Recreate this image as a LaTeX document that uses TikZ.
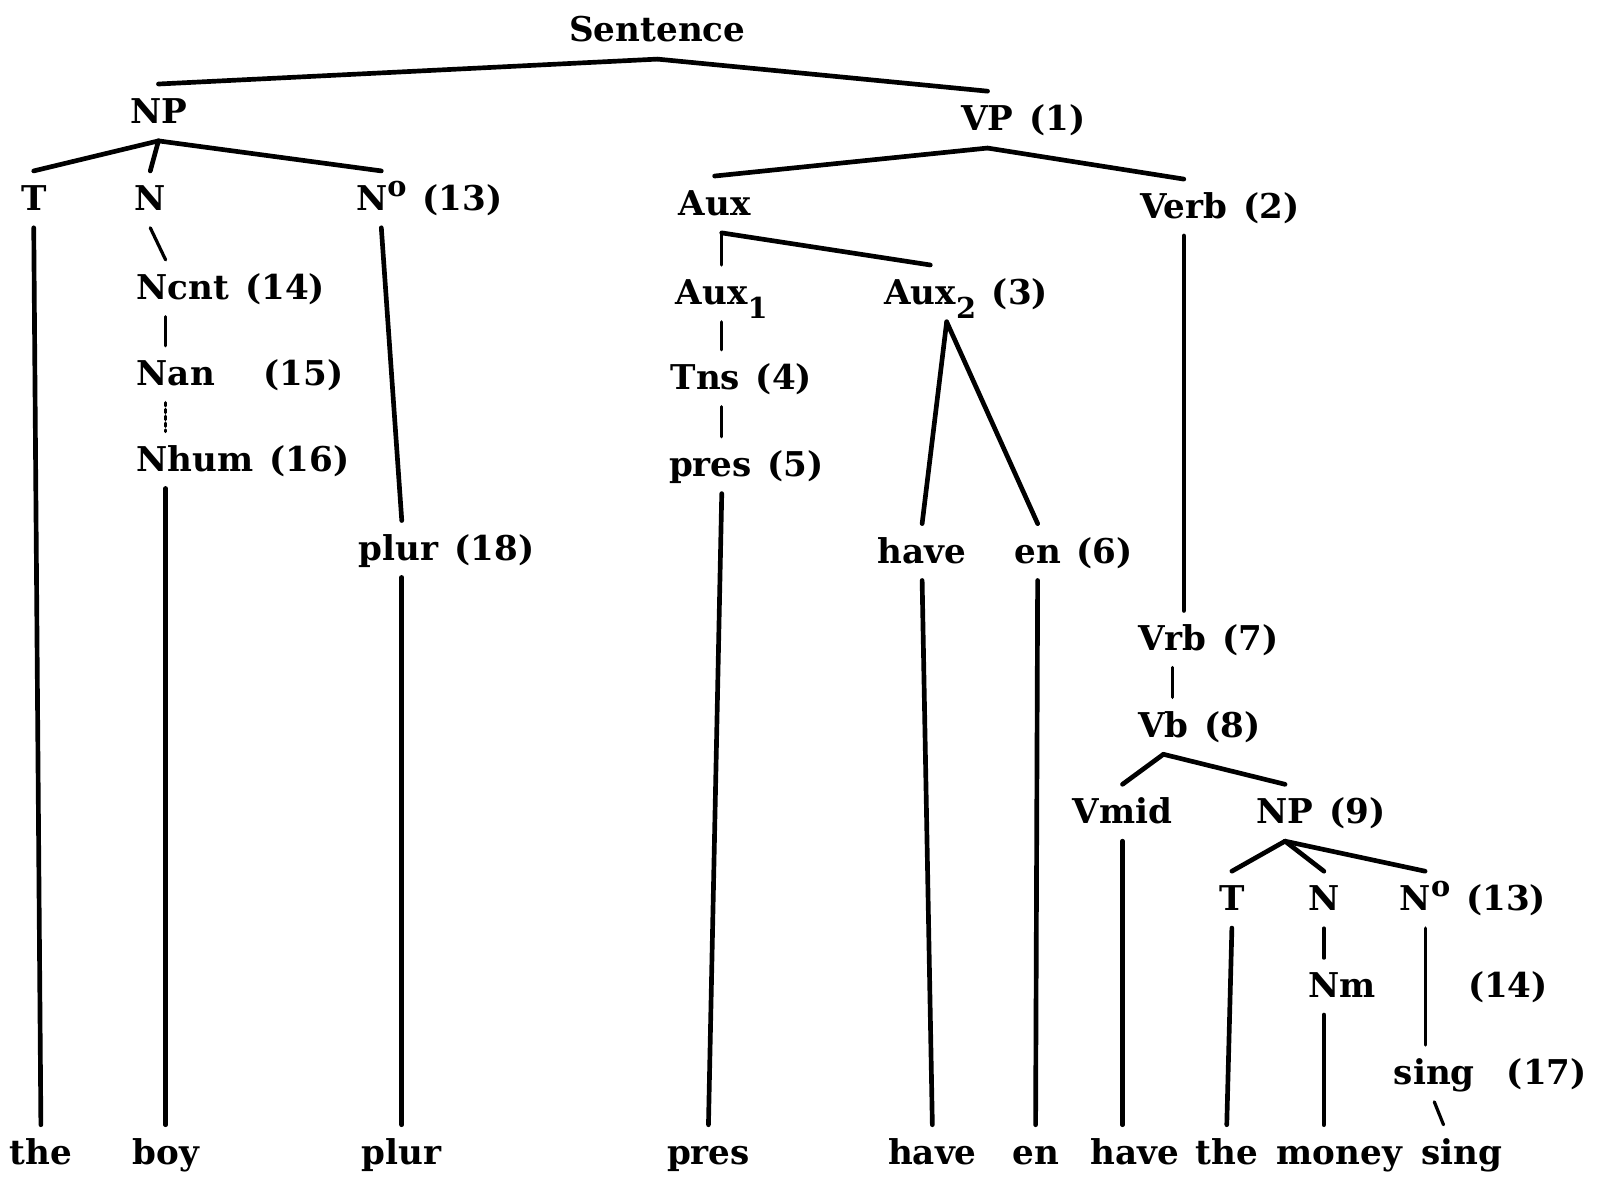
\documentclass[tikz,border=0pt]{standalone}
\usepackage{fontspec}
\setmainfont{DejaVu Serif}
\usepackage{tikz}
\usetikzlibrary{positioning}

\newcommand{\Nsup}{N\raisebox{0.8ex}{\footnotesize o}}
\newcommand{\lowsub}[1]{\raisebox{-0.8ex}{\footnotesize #1}}

\begin{document}
\begin{tikzpicture}[
    x=0.01cm, y=-0.01cm,
    node distance=0.5cm and 0pt,
    lbl/.style={font=\fontsize{9.5pt}{11pt}\selectfont\bfseries, inner sep=2pt,
                text height=1.7ex, text depth=0.5ex},
    num/.style={lbl},
    branch/.style={line width=1.3pt, line cap=round},
    twig/.style={line width=0.9pt, line cap=round},
]
    \useasboundingbox (0,0) rectangle (1568,1151);

    % upper tree
    \node[lbl] (sent) at (643,30) {Sentence};
    \node[lbl] (np) at (155,110) {NP};
    \node[lbl] (vp) at (966,117) {VP};
    \node[num, right=of vp] (vpn) {(1)};

    \node[lbl] (t1) at (33,195) {T};
    \node[lbl] (n1) at (147,195) {N};
    \node[lbl] (no1) at (373,195) {\Nsup};
    \node[num, right=of no1] (no1n) {(13)};
    \node[lbl] (aux) at (699,200) {Aux};
    \node[lbl] (verb) at (1158,203) {Verb};
    \node[num, right=of verb] (verbn) {(2)};

    \node[lbl, anchor=west] (ncnt) at (126,282) {Ncnt};
    \node[num, right=of ncnt] (ncntn) {(14)};
    \node[lbl] (aux1) at (706,287) {Aux\lowsub{1}};
    \node[lbl] (aux2) at (910,287) {Aux\lowsub{2}};
    \node[num, right=of aux2] (aux2n) {(3)};

    \node[lbl, anchor=west] (nan) at (126,366) {Nan};
    \node[num, right=0.32cm of nan] (nann) {(15)};
    \node[lbl] (tns) at (690,370) {Tns};
    \node[num, right=of tns] (tnsn) {(4)};

    \node[lbl, anchor=west] (nhum) at (126,450) {Nhum};
    \node[num, right=of nhum] (nhumn) {(16)};
    \node[lbl] (pres5) at (695,455) {pres};
    \node[num, right=of pres5] (pres5n) {(5)};

    \node[lbl] (plur18) at (390,537) {plur};
    \node[num, right=of plur18] (plur18n) {(18)};
    \node[lbl] (have1) at (902,540) {have};
    \node[lbl] (en6) at (1015,540) {en};
    \node[num, right=of en6] (en6n) {(6)};

    \node[lbl] (vrb) at (1147,625) {Vrb};
    \node[num, right=of vrb] (vrbn) {(7)};
    \node[lbl] (vb) at (1138,710) {Vb};
    \node[num, right=of vb] (vbn) {(8)};
    \node[lbl] (vmid) at (1098,795) {Vmid};
    \node[lbl] (np9) at (1257,795) {NP};
    \node[num, right=of np9] (np9n) {(9)};

    \node[lbl] (t2) at (1205,880) {T};
    \node[lbl] (n2) at (1295,880) {N};
    \node[lbl] (no2) at (1394,880) {\Nsup};
    \node[num, right=of no2] (no2n) {(13)};
    \node[lbl] (nm) at (1313,965) {Nm};
    \node[num] (nmn) at (1475,965) {(14)};
    \node[lbl] (sing17) at (1403,1050) {sing};
    \node[num, right=0.16cm of sing17] (sing17n) {(17)};

    % terminal string
    \node[lbl] (w1) at (40,1128) {the};
    \node[lbl] (w2) at (162,1128) {boy};
    \node[lbl] (w3) at (393,1128) {plur};
    \node[lbl] (w4) at (693,1128) {pres};
    \node[lbl] (w5) at (912,1128) {have};
    \node[lbl] (w6) at (1013,1128) {en};
    \node[lbl] (w7) at (1110,1128) {have};
    \node[lbl] (w8) at (1200,1128) {the};
    \node[lbl] (w9) at (1310,1128) {money};
    \node[lbl] (w10) at (1430,1128) {sing};

    % branches
    \draw[branch] (sent.south) -- (np.north);
    \draw[branch] (sent.south) -- (vp.north);
    \draw[branch] (np.south) -- (t1.north);
    \draw[branch] (np.south) -- (n1.north);
    \draw[branch] (np.south) -- (no1.north);
    \draw[branch] (vp.south) -- (aux.north);
    \draw[branch] (vp.south) -- (verb.north);

    \draw[branch] (t1.south) -- (w1.north);
    \draw[twig] (n1.south) -- (ncnt.north -| w2.north);
    \draw[twig] (ncnt.south -| w2.north) -- (nan.north -| w2.north);
    \draw[twig, densely dotted] (nan.south -| w2.north) -- (nhum.north -| w2.north);
    \draw[branch] (nhum.south -| w2.north) -- (w2.north);
    \draw[branch] (no1.south) -- (plur18.north -| w3.north);
    \draw[branch] (plur18.south -| w3.north) -- (w3.north);

    \draw[twig] (aux.south -| aux1.north) -- (aux1.north);
    \draw[branch] (aux.south -| aux1.north) -- (aux2.north);
    \draw[twig] (aux1.south) -- (tns.north -| aux1.south);
    \draw[twig] (tns.south -| aux1.south) -- (pres5.north -| aux1.south);
    \draw[branch] (pres5.south -| aux1.south) -- (w4.north);
    \draw[branch] ([xshift=0.16cm]aux2.south) -- (have1.north);
    \draw[branch] ([xshift=0.16cm]aux2.south) -- (en6.north);
    \draw[branch] (have1.south) -- (w5.north);
    \draw[branch] (en6.south) -- (w6.north);

    \draw[branch] (verb.south) -- (vrb.north -| verb.south);
    \draw[twig] (vrb.south) -- (vb.north -| vrb.south);
    \draw[branch] (vb.south) -- (vmid.north);
    \draw[branch] (vb.south) -- (np9.north);
    \draw[branch] (vmid.south) -- (w7.north -| vmid.south);
    \draw[branch] (np9.south) -- (t2.north);
    \draw[branch] (np9.south) -- (n2.north);
    \draw[branch] (np9.south) -- (no2.north);
    \draw[branch] (t2.south) -- (w8.north);
    \draw[twig] (n2.south) -- (nm.north -| n2.south);
    \draw[branch] (nm.south -| n2.south) -- (w9.north -| n2.south);
    \draw[twig] (no2.south) -- (sing17.north -| no2.south);
    \draw[twig] (sing17.south) -- ([xshift=-0.18cm]w10.north);
\end{tikzpicture}
\end{document}
